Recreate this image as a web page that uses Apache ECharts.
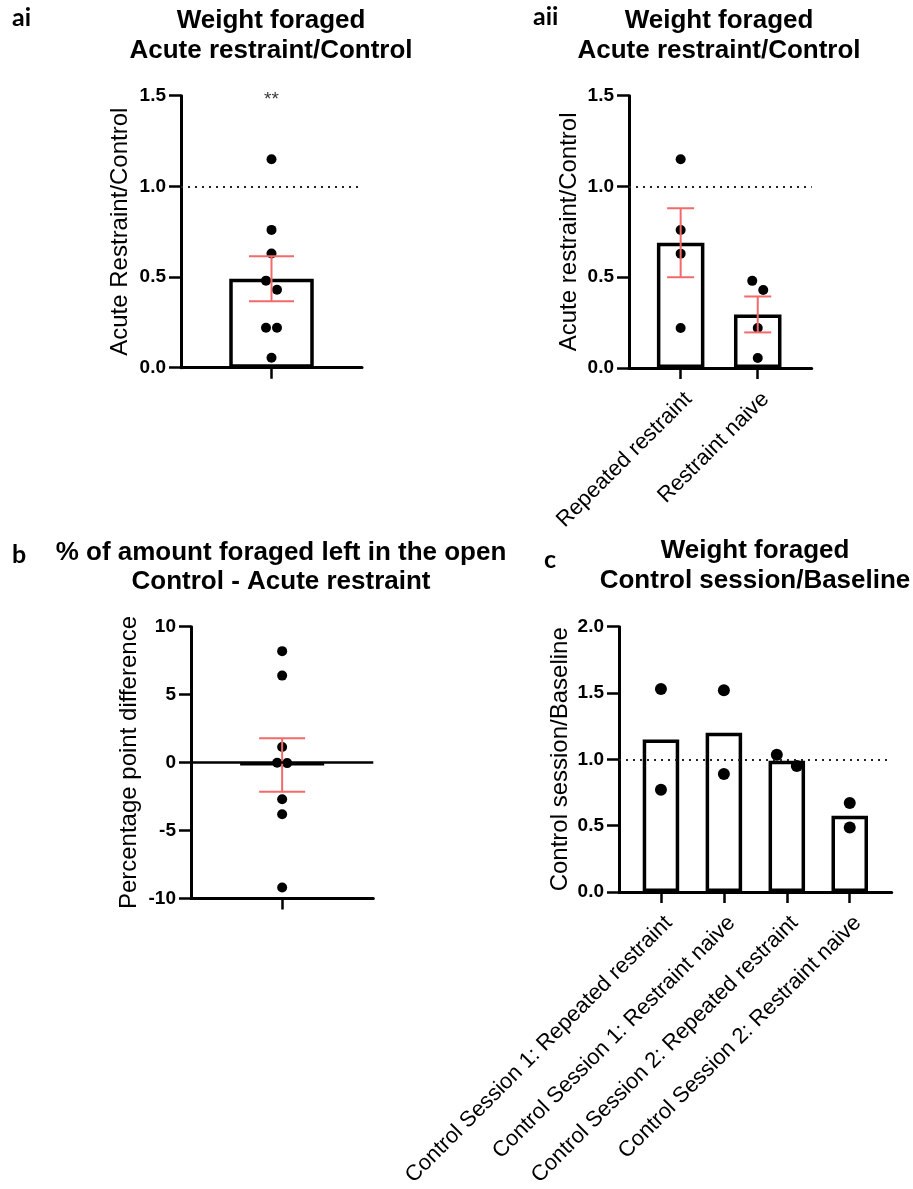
<!DOCTYPE html>
<html>
<head>
<meta charset="utf-8">
<script src="https://cdn.jsdelivr.net/npm/echarts@6.0.0/dist/echarts.min.js"></script>
<style>
  html, body { margin: 0; padding: 0; background: #fff; }
  #chart { width: 913px; height: 1189px; }
</style>
</head>
<body>
<div id="chart"></div>
<script>
// ---------- data ----------
// ai: weight foraged, acute restraint / control, all animals
const aiYTicks = [0, 0.5, 1.0, 1.5];
const aiValues = [1.15, 0.76, 0.63, 0.48, 0.43, 0.22, 0.22, 0.055];
const aiMean = [0.49];
const aiSem = [0.124];

// aii: same ratio split by restraint history
const aiiYTicks = [0, 0.5, 1.0, 1.5];
const aiiCategories = ['Repeated restraint', 'Restraint naive'];
const aiiRepeated = [1.15, 0.76, 0.63, 0.22];
const aiiNaive = [0.48, 0.43, 0.22, 0.055];
const aiiMeans = [0.69, 0.295];
const aiiSem = [0.19, 0.099];

// b: percentage point difference, control - acute restraint
const bYTicks = [-10, -5, 0, 5, 10];
const bValues = [8.2, 6.4, 1.15, -0.02, -0.04, -2.7, -3.8, -9.2];
const bMean = [-0.18];
const bSem = [1.97];

// c: weight foraged, control session / baseline
const cYTicks = [0, 0.5, 1.0, 1.5, 2.0];
const cCategories = [
  'Control Session 1: Repeated restraint',
  'Control Session 1: Restraint naive',
  'Control Session 2: Repeated restraint',
  'Control Session 2: Restraint naive'
];
const cS1Repeated = [1.53, 0.77];
const cS1Naive = [1.52, 0.89];
const cS2Repeated = [1.035, 0.95];
const cS2Naive = [0.67, 0.485];
const cMeans = [1.15, 1.2, 0.99, 0.575];

// ---------- styling ----------
const FONT = '"Liberation Sans", Arial, Helvetica, sans-serif';
const LABEL_FONT = 'Lato, "Open Sans", sans-serif';
const ERR_COLOR = '#f26a6a';

// x offsets for dots whose values overlap (simple two-column swarm)
function swarmOffsets(values, pxPerUnit, dot, step) {
  const order = values.map((v, i) => i).sort((a, b) => values[b] - values[a]);
  const off = values.map(() => 0);
  for (let k = 1; k < order.length; k++) {
    const prev = order[k - 1], cur = order[k];
    if (off[prev] === 0 && (values[prev] - values[cur]) * pxPerUnit < dot) {
      off[prev] = -step;
      off[cur] = step;
    }
  }
  return off;
}

const option = {
  animation: false,
  backgroundColor: '#fff',
  grid: [], xAxis: [], yAxis: [], series: [], graphic: []
};

function addPanel(p) {
  const i = option.grid.length;
  option.grid.push({ left: p.left, top: p.top, width: p.width, height: p.height });
  const axisLine = { show: true, onZero: false, lineStyle: { color: '#000', width: 3 } };
  option.xAxis.push({
    type: 'value', gridIndex: i, min: p.xMin, max: p.xMax,
    axisLine,
    splitLine: { show: false },
    axisTick: { show: true, length: 11, lineStyle: { color: '#000', width: 2.5 },
                customValues: p.groups.map((g, k) => k) },
    axisLabel: p.categories ? {
      show: true, customValues: p.groups.map((g, k) => k),
      formatter: v => p.categories[Math.round(v)] || '',
      rotate: 45, align: 'right', verticalAlign: 'top', margin: p.labelMargin,
      fontFamily: FONT, fontSize: 22, color: '#000'
    } : { show: false }
  });
  const ticks = p.yTicks;
  option.yAxis.push({
    type: 'value', gridIndex: i,
    min: ticks[0], max: ticks[ticks.length - 1], interval: ticks[1] - ticks[0],
    axisLine,
    splitLine: { show: false },
    axisTick: { show: true, length: 12, lineStyle: { color: '#000', width: 2.5 } },
    axisLabel: {
      margin: 15, fontFamily: FONT, fontSize: 19, fontWeight: 'bold', color: '#000',
      formatter: v => p.yDecimals ? v.toFixed(p.yDecimals) : String(v)
    },
    name: p.yName, nameLocation: 'middle', nameGap: p.nameGap,
    nameTextStyle: { fontFamily: FONT, fontSize: 24, color: '#000' }
  });

  // bars
  const markLines = [];
  if (p.refLine !== undefined) {
    markLines.push({ yAxis: p.refLine, lineStyle: p.refSolid
      ? { type: 'solid', width: 2.5, color: '#000' }
      : { type: [2, 5], width: 2, color: '#222' } });
  }
  option.series.push({
    type: 'bar', xAxisIndex: i, yAxisIndex: i,
    barWidth: p.barWidth,
    data: p.means.map((m, k) => [k, m]),
    itemStyle: { color: '#fff', borderColor: '#000', borderWidth: 3.5 },
    z: 2,
    markLine: markLines.length ? {
      silent: true, symbol: ['none', 'none'], label: { show: false },
      data: markLines
    } : undefined
  });

  // individual animals
  const pxPerUnit = p.height / (ticks[ticks.length - 1] - ticks[0]);
  const dots = [];
  p.groups.forEach((vals, k) => {
    const off = swarmOffsets(vals, pxPerUnit, p.dot, p.spread);
    vals.forEach((v, j) => dots.push({ value: [k, v], symbolOffset: [off[j], 0] }));
  });
  option.series.push({
    type: 'scatter', xAxisIndex: i, yAxisIndex: i,
    symbol: 'circle', symbolSize: p.dot,
    itemStyle: { color: '#000', opacity: 1 },
    data: dots, z: 3
  });

  // mean +/- SEM
  if (p.sems) {
    const cap = p.cap;
    option.series.push({
      type: 'custom', xAxisIndex: i, yAxisIndex: i, z: 4,
      data: p.means.map((m, k) => [k, m - p.sems[k], m + p.sems[k]]),
      encode: { x: 0, y: [1, 2] },
      renderItem: (params, api) => {
        const x = api.value(0);
        const lo = api.coord([x, api.value(1)]);
        const hi = api.coord([x, api.value(2)]);
        const h = cap / 2;
        const style = { stroke: ERR_COLOR, lineWidth: 2, fill: null };
        return { type: 'group', children: [
          { type: 'line', shape: { x1: lo[0], y1: lo[1], x2: hi[0], y2: hi[1] }, style },
          { type: 'line', shape: { x1: hi[0] - h, y1: hi[1], x2: hi[0] + h, y2: hi[1] }, style },
          { type: 'line', shape: { x1: lo[0] - h, y1: lo[1], x2: lo[0] + h, y2: lo[1] }, style }
        ] };
      }
    });
  }

  // titles and panel letter
  p.title.forEach((line, k) => {
    option.graphic.push({
      type: 'text', x: p.titleX, y: p.titleY + k * 29.5,
      style: { text: line, fill: '#000', textAlign: 'center', textVerticalAlign: 'middle',
               font: 'bold 26px ' + FONT }
    });
  });
  option.graphic.push({
    type: 'text', x: p.letterX, y: p.letterY,
    style: { text: p.letter, fill: '#000', textAlign: 'left', textVerticalAlign: 'middle',
             font: 'bold 25px ' + LABEL_FONT }
  });
  return i;
}

const aiIdx = addPanel({
  left: 181, top: 95.7, width: 181, height: 272,
  xMin: -0.5, xMax: 0.5, yTicks: aiYTicks, yDecimals: 1,
  groups: [aiValues], means: aiMean, sems: aiSem,
  barWidth: 84.5, dot: 10, spread: 5.5, cap: 45, refLine: 1,
  yName: 'Acute Restraint/Control', nameGap: 49,
  title: ['Weight foraged', 'Acute restraint/Control'], titleX: 271, titleY: 21,
  letter: 'ai', letterX: 12, letterY: 18
});

// significance marker above the ai group
option.series.push({
  type: 'scatter', xAxisIndex: aiIdx, yAxisIndex: aiIdx, symbolSize: 1,
  itemStyle: { color: 'rgba(0,0,0,0)' }, z: 6,
  data: [[0, aiYTicks[aiYTicks.length - 1]]],
  label: { show: true, position: 'inside', formatter: '**', offset: [0, 4],
           fontFamily: FONT, fontSize: 19, color: '#000' }
});

addPanel({
  left: 629, top: 95.7, width: 182.7, height: 272.3,
  xMin: -0.67, xMax: 1.7, yTicks: aiiYTicks, yDecimals: 1,
  categories: aiiCategories, labelMargin: 20,
  groups: [aiiRepeated, aiiNaive], means: aiiMeans, sems: aiiSem,
  barWidth: 47.5, dot: 10, spread: 5.5, cap: 27, refLine: 1,
  yName: 'Acute restraint/Control', nameGap: 48,
  title: ['Weight foraged', 'Acute restraint/Control'], titleX: 719, titleY: 21,
  letter: 'aii', letterX: 533, letterY: 17
});

addPanel({
  left: 191, top: 626.7, width: 182.3, height: 271.7,
  xMin: -0.5, xMax: 0.5, yTicks: bYTicks, yDecimals: 0,
  groups: [bValues], means: bMean, sems: bSem,
  barWidth: 86.5, dot: 10, spread: 5, cap: 46, refLine: 0, refSolid: true,
  yName: 'Percentage point difference', nameGap: 50,
  title: ['% of amount foraged left in the open', 'Control - Acute restraint'], titleX: 281, titleY: 552.5,
  letter: 'b', letterX: 12, letterY: 555
});

addPanel({
  left: 619, top: 626.7, width: 272.7, height: 272.3,
  xMin: -2 / 3, xMax: 3 + 2 / 3, yTicks: cYTicks, yDecimals: 1,
  categories: cCategories, labelMargin: 20,
  groups: [cS1Repeated, cS1Naive, cS2Repeated, cS2Naive], means: cMeans,
  barWidth: 36.5, dot: 12, spread: 10, refLine: 1,
  yName: 'Control session/Baseline', nameGap: 47,
  title: ['Weight foraged', 'Control session/Baseline'], titleX: 755, titleY: 551,
  letter: 'c', letterX: 544, letterY: 560
});

const chart = echarts.init(document.getElementById('chart'), null, { renderer: 'canvas' });
chart.setOption(option);
</script>
</body>
</html>
